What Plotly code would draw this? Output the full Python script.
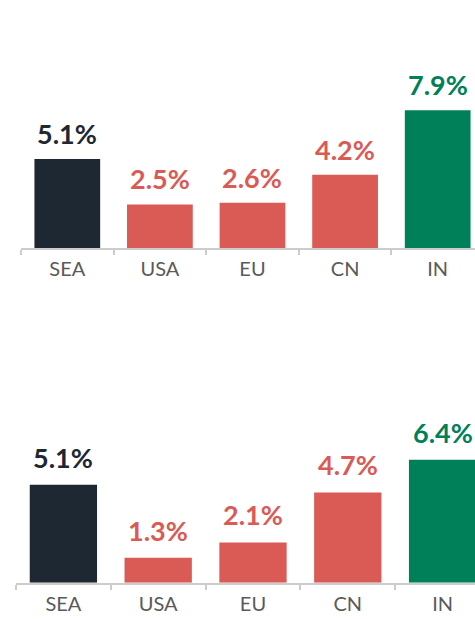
import plotly.graph_objects as go

categories = ["SEA", "USA", "EU", "CN", "IN"]
values_top = [5.1, 2.5, 2.6, 4.2, 7.9]
values_bottom = [5.1, 1.3, 2.1, 4.7, 6.4]
bar_colors = ["#1e2833", "#da5a55", "#da5a55", "#da5a55", "#008059"]
labels_top = [f"{v}%" for v in values_top]
labels_bottom = [f"{v}%" for v in values_bottom]

W, H = 475, 619
FONT = "Lato"

fig = go.Figure()
fig.add_trace(go.Bar(x=categories, y=values_top, marker=dict(color=bar_colors, line=dict(width=0)),
                     width=0.71, xaxis="x", yaxis="y", hoverinfo="skip", showlegend=False))
fig.add_trace(go.Bar(x=categories, y=values_bottom, marker=dict(color=bar_colors, line=dict(width=0)),
                     width=0.71, xaxis="x2", yaxis="y2", hoverinfo="skip", showlegend=False))

annotations = []
for c, v, t, col in zip(categories, values_top, labels_top, bar_colors):
    annotations.append(dict(x=c, y=v, xref="x", yref="y", text=t, showarrow=False,
                            yanchor="bottom", yshift=7,
                            font=dict(family=FONT, size=27, color=col, weight="bold")))
for c, v, t, col in zip(categories, values_bottom, labels_bottom, bar_colors):
    annotations.append(dict(x=c, y=v, xref="x2", yref="y2", text=t, showarrow=False,
                            yanchor="bottom", yshift=9,
                            font=dict(family=FONT, size=27, color=col, weight="bold")))

axis_common = dict(type="category", showline=True, linecolor="#cccccc", linewidth=2,
                   ticks="outside", tickson="boundaries", ticklen=5, tickcolor="#cccccc",
                   tickwidth=2, showgrid=False, zeroline=False, fixedrange=True,
                   ticklabelstandoff=2,
                   tickfont=dict(family=FONT, size=20, color="#5a5a5a"))

fig.update_layout(
    width=W, height=H,
    margin=dict(l=0, r=0, t=0, b=0),
    plot_bgcolor="white", paper_bgcolor="white",
    bargap=0.29,
    annotations=annotations,
    xaxis=dict(domain=[21 / W, 1], range=[-0.5, 4.403], anchor="y", **axis_common),
    yaxis=dict(domain=[(H - 248) / H, 1], range=[0, 248 / 17.45], visible=False, fixedrange=True),
    xaxis2=dict(domain=[16 / W, 1], range=[-0.5, 4.342], anchor="y2", **axis_common),
    yaxis2=dict(domain=[(H - 582.7) / H, (H - 300) / H], range=[0, 282.7 / 19.2],
                visible=False, fixedrange=True),
)

fig.write_html(
    "out.html",
    config={"displayModeBar": False},
    post_script="document.body.style.margin='0';document.body.style.padding='0';"
                "document.body.style.overflow='hidden';"
                "document.documentElement.style.overflow='hidden';",
)
